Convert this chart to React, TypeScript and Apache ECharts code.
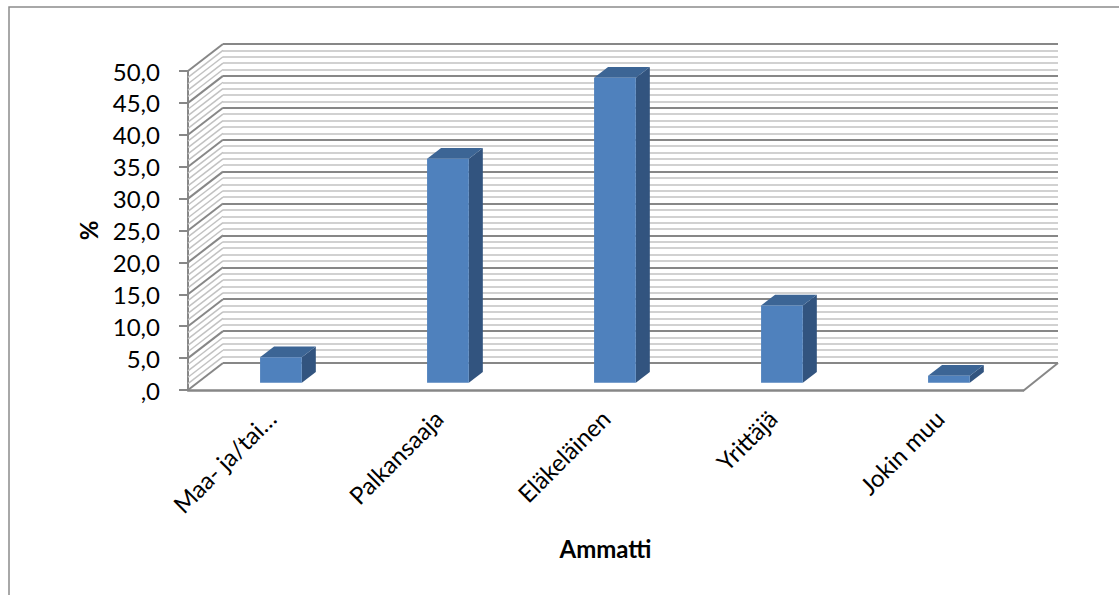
import React, { useEffect, useRef } from "react";
import * as echarts from "echarts";

// Occupation shares (%)
const categories = ["Maa- ja/tai…", "Palkansaaja", "Eläkeläinen", "Yrittäjä", "Jokin muu"];
const shares = [4.0, 35.1, 47.8, 12.1, 1.1];

// Value axis
const yMin = 0;
const yMax = 50;
const yStep = 5;
const yMinorSplit = 5;
const yTickLabels = [",0", "5,0", "10,0", "15,0", "20,0", "25,0", "30,0", "35,0", "40,0", "45,0", "50,0"];

const xTitle = "Ammatti";
const yTitle = "%";

// Oblique 3D look: wall depth and bar placement inside it
const DEPTH_X = 35;
const DEPTH_Y = 27;
const BAR_FRONT = 0.27;
const BAR_DEPTH = 0.4;
const BAR_WIDTH = 0.25;

const FONT = "Lato, 'Open Sans', sans-serif";
const MAJOR = "#878787";
const MINOR = "#c2c2c2";

export default function App() {
  const ref = useRef<HTMLDivElement>(null);

  useEffect(() => {
    if (!ref.current) return;
    const chart = echarts.init(ref.current, undefined, { renderer: "svg" });

    const frontGrid = { left: 188, top: 71, width: 835, height: 319 };
    const backGrid = {
      left: frontGrid.left + DEPTH_X,
      top: frontGrid.top - DEPTH_Y,
      width: frontGrid.width,
      height: frontGrid.height,
    };

    const sideWall = (params: any, api: any) => {
      const cs = params.coordSys;
      const children: any[] = [];
      const minorStep = yStep / yMinorSplit;
      for (let v = yMin; v <= yMax + 1e-9; v += minorStep) {
        const y = api.coord([0, v])[1];
        const major = Math.abs(v / yStep - Math.round(v / yStep)) < 1e-6;
        children.push({
          type: "line",
          shape: { x1: cs.x, y1: y, x2: cs.x + DEPTH_X, y2: y - DEPTH_Y },
          style: { stroke: major ? MAJOR : MINOR, lineWidth: major ? 2 : 1.5 },
        });
      }
      // right edge of the floor
      children.push({
        type: "line",
        shape: {
          x1: cs.x + cs.width,
          y1: cs.y + cs.height + 1,
          x2: cs.x + cs.width + DEPTH_X,
          y2: cs.y + cs.height - DEPTH_Y,
        },
        style: { stroke: MAJOR, lineWidth: 2 },
      });
      return { type: "group", children };
    };

    const box = (params: any, api: any) => {
      const i = api.value(0);
      const v = api.value(1);
      const p0 = api.coord([i, 0]);
      const p1 = api.coord([i, v]);
      const band = api.size([1, 0])[0];
      const w = band * BAR_WIDTH;
      const ox = DEPTH_X * BAR_FRONT;
      const oy = DEPTH_Y * BAR_FRONT;
      const dx = DEPTH_X * BAR_DEPTH;
      const dy = DEPTH_Y * BAR_DEPTH;
      const L = p0[0] - w / 2 + ox;
      const R = L + w;
      const B = p0[1] - oy;
      const T = p1[1] - oy;
      return {
        type: "group",
        children: [
          {
            type: "polygon",
            shape: { points: [[R, T], [R + dx, T - dy], [R + dx, B - dy], [R, B]] },
            style: { fill: "#32547f" },
          },
          {
            type: "polygon",
            shape: { points: [[L, T], [R, T], [R + dx, T - dy], [L + dx, T - dy]] },
            style: { fill: "#3c6595" },
          },
          {
            type: "rect",
            shape: { x: L, y: T, width: w, height: B - T },
            style: { fill: "#4f81bd" },
          },
        ],
      };
    };

    chart.setOption({
      animation: false,
      backgroundColor: "#ffffff",
      textStyle: { fontFamily: FONT },
      graphic: [
        {
          type: "polyline",
          shape: { points: [[9, 600], [9, 7], [1125, 7]] },
          style: { stroke: "#8c8c8c", lineWidth: 1.5, fill: null },
          silent: true,
        },
      ],
      grid: [
        { ...frontGrid, containLabel: false },
        { ...backGrid, containLabel: false },
      ],
      xAxis: [
        {
          type: "category",
          gridIndex: 0,
          data: categories,
          boundaryGap: true,
          axisLine: { show: true, lineStyle: { color: MAJOR, width: 2.5 } },
          axisTick: { show: false },
          axisLabel: {
            rotate: 45,
            margin: 24,
            color: "#000",
            fontSize: 24,
            fontFamily: FONT,
            interval: 0,
          },
          name: xTitle,
          nameLocation: "middle",
          nameGap: 146,
          nameTextStyle: { color: "#000", fontSize: 24, fontWeight: "bold", fontFamily: FONT },
          splitLine: { show: false },
        },
        {
          type: "value",
          gridIndex: 1,
          min: 0,
          max: 1,
          show: false,
        },
      ],
      yAxis: [
        {
          type: "value",
          gridIndex: 0,
          min: yMin,
          max: yMax,
          interval: yStep,
          axisLine: { show: true, lineStyle: { color: MAJOR, width: 2 } },
          axisTick: { show: true, length: 9, lineStyle: { color: MAJOR, width: 2 } },
          axisLabel: {
            margin: 28,
            color: "#000",
            fontSize: 24,
            fontFamily: FONT,
            formatter: (v: number) => yTickLabels[Math.round((v - yMin) / yStep)],
          },
          splitLine: { show: false },
          name: yTitle,
          nameLocation: "middle",
          nameGap: 88,
          nameRotate: 90,
          nameTextStyle: { color: "#000", fontSize: 24, fontWeight: "bold", fontFamily: FONT },
        },
        {
          type: "value",
          gridIndex: 1,
          min: yMin,
          max: yMax,
          interval: yStep,
          axisLine: { show: false },
          axisTick: { show: false },
          axisLabel: { show: false },
          splitLine: { show: true, lineStyle: { color: MAJOR, width: 2 } },
          minorTick: { show: false, splitNumber: yMinorSplit },
          minorSplitLine: { show: true, lineStyle: { color: MINOR, width: 1.5 } },
        },
      ],
      series: [
        {
          type: "custom",
          name: "sivuseinä",
          xAxisIndex: 0,
          yAxisIndex: 0,
          data: [[0, 0]],
          encode: { x: 0, y: 1 },
          renderItem: sideWall,
          clip: false,
          silent: true,
          z: 1,
        },
        {
          type: "custom",
          name: "Ammatti",
          xAxisIndex: 0,
          yAxisIndex: 0,
          data: shares.map((v, i) => [i, v]),
          encode: { x: 0, y: 1 },
          renderItem: box,
          clip: false,
          silent: true,
          z: 3,
        },
      ],
    });

    return () => chart.dispose();
  }, []);

  return (
    <div
      ref={ref}
      style={{ position: "fixed", left: 0, top: 0, width: 1119, height: 595, background: "#fff" }}
    />
  );
}
